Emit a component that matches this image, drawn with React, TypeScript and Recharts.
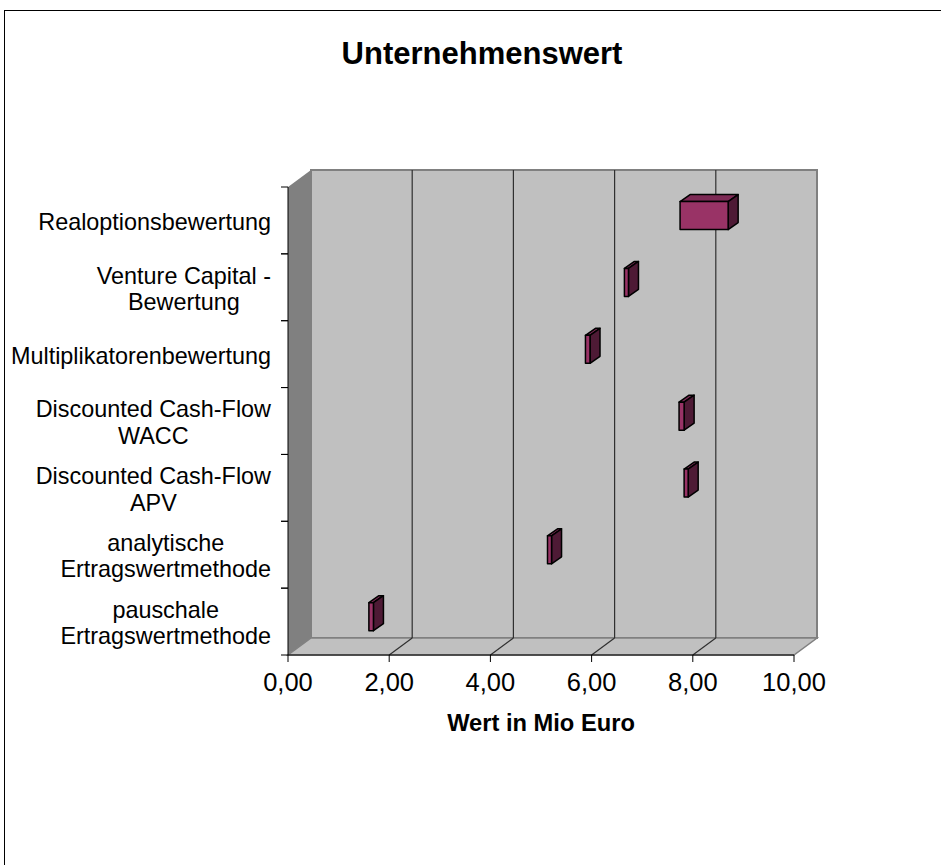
import { BarChart, Bar, XAxis, YAxis, ReferenceArea, ReferenceLine, Label } from 'recharts';

// valuation methods, top to bottom
const categories = [
  'Realoptionsbewertung',
  'Venture Capital -\nBewertung',
  'Multiplikatorenbewertung',
  'Discounted Cash-Flow\nWACC',
  'Discounted Cash-Flow\nAPV',
  'analytische\nErtragswertmethode',
  'pauschale\nErtragswertmethode',
];
// lower and upper end of each value range (Mio Euro)
const lowValues = [7.62, 6.52, 5.75, 7.6, 7.7, 5.0, 1.47];
const highValues = [8.57, 6.6, 5.84, 7.7, 7.78, 5.08, 1.56];
const xTicks = [0, 2, 4, 6, 8, 10];
const gridValues = [2, 4, 6, 8];

const data = categories.map((name, i) => ({ name, range: [lowValues[i], highValues[i]] }));

const FONT = '"Liberation Sans", Arial, Helvetica, sans-serif';
const LABEL_SIZE = 23.4;
const LINE_H = 26.5;
const TICK_SIZE = 7;
const TICK_MARGIN = 10;

// fake 3d: wall depth and bar placement inside it
const DX = 23;
const DY = -17;
const BAR_SHIFT_X = 6.5;
const BAR_SHIFT_Y = -4.8;
const BAR_DX = 10;
const BAR_DY = -7;

const measureCtx = typeof document !== 'undefined' ? document.createElement('canvas').getContext('2d') : null;
function textWidth(s: string) {
  if (!measureCtx) return s.length * LABEL_SIZE * 0.5;
  measureCtx.font = `${LABEL_SIZE}px ${FONT}`;
  return measureCtx.measureText(s).width;
}

const pts = (p: number[][]) => p.map(([a, b]) => `${a},${b}`).join(' ');

function Walls(props: any) {
  const { x, y, width: w, height: h } = props;
  return (
    <g>
      <rect x={x + DX} y={y + DY} width={w} height={h} fill="#C0C0C0" stroke="#808080" strokeWidth={2} />
      <polygon points={pts([[x, y], [x + DX, y + DY], [x + DX, y + h + DY], [x, y + h]])} fill="#808080" />
      <polygon
        points={pts([[x, y + h], [x + DX, y + h + DY], [x + w + DX, y + h + DY], [x + w, y + h]])}
        fill="#C0C0C0"
        stroke="#808080"
        strokeWidth={1.5}
      />
    </g>
  );
}

function WallGridLine(props: any) {
  const { x1, y1, y2 } = props;
  const top = Math.min(y1, y2);
  const bottom = Math.max(y1, y2);
  return (
    <g stroke="#303030" strokeWidth={1.2}>
      <line x1={x1 + DX} y1={top + DY} x2={x1 + DX} y2={bottom + DY} />
      <line x1={x1} y1={bottom} x2={x1 + DX} y2={bottom + DY} />
    </g>
  );
}

function Box3D(props: any) {
  const { x, y, width, height } = props;
  if (width == null || height == null) return null;
  const X = x + BAR_SHIFT_X;
  const Y = y + BAR_SHIFT_Y;
  const W = width;
  const H = height;
  return (
    <g stroke="#000" strokeWidth={1.5} strokeLinejoin="round">
      <polygon points={pts([[X, Y], [X + BAR_DX, Y + BAR_DY], [X + W + BAR_DX, Y + BAR_DY], [X + W, Y]])} fill="#7D2A55" />
      <polygon points={pts([[X + W, Y], [X + W + BAR_DX, Y + BAR_DY], [X + W + BAR_DX, Y + H + BAR_DY], [X + W, Y + H]])} fill="#4E1A35" />
      <rect x={X} y={Y} width={W} height={H} fill="#993366" />
    </g>
  );
}

function CategoryTick(props: any) {
  const { x, y, payload } = props;
  const half = payload?.offset ?? 33.4;
  const lines = String(payload.value).split('\n');
  const maxW = Math.max(...lines.map(textWidth));
  const cx = x - maxW / 2;
  const axisX = x + TICK_MARGIN + TICK_SIZE;
  return (
    <g>
      <line x1={axisX - TICK_SIZE} y1={y - half} x2={axisX} y2={y - half} stroke="#000" />
      <line x1={axisX - TICK_SIZE} y1={y + half} x2={axisX} y2={y + half} stroke="#000" />
      {lines.map((ln, i) => (
        <text
          key={i}
          x={cx}
          y={y + 1.5 + (i - (lines.length - 1) / 2) * LINE_H}
          textAnchor="middle"
          dominantBaseline="central"
          fontSize={LABEL_SIZE}
          fontFamily={FONT}
          fill="#000"
        >
          {ln}
        </text>
      ))}
    </g>
  );
}

export default function App() {
  return (
    <div style={{ position: 'absolute', left: 0, top: 0, width: 941, height: 865, overflow: 'hidden', background: '#fff', fontFamily: FONT }}>
      <div style={{ position: 'absolute', left: 4, top: 10, width: 1200, height: 1200, border: '1px solid #000' }} />
      <div style={{ position: 'absolute', left: 0, width: 964, top: 36, textAlign: 'center', fontSize: 31, fontWeight: 'bold', color: '#000' }}>
        Unternehmenswert
      </div>
      <div style={{ position: 'absolute', left: 0, top: 0 }}>
        <BarChart
          width={941}
          height={865}
          data={data}
          layout="vertical"
          margin={{ top: 187, right: 147, bottom: 130, left: 0 }}
          barCategoryGap="29%"
        >
          <XAxis
            type="number"
            domain={[0, 10]}
            ticks={xTicks}
            tickFormatter={(v: number) => v.toFixed(2).replace('.', ',')}
            tickSize={TICK_SIZE}
            tickMargin={11}
            axisLine={{ stroke: '#000' }}
            tickLine={{ stroke: '#000' }}
            tick={{ fill: '#000', fontSize: 25.5, fontFamily: FONT }}
            height={80}
          >
            <Label
              value="Wert in Mio Euro"
              position="insideBottom"
              offset={4}
              style={{ fill: '#000', fontSize: 23.7, fontWeight: 'bold', fontFamily: FONT }}
            />
          </XAxis>
          <YAxis
            type="category"
            dataKey="name"
            width={288}
            interval={0}
            tickSize={TICK_SIZE}
            tickMargin={TICK_MARGIN}
            tickLine={false}
            axisLine={{ stroke: '#000' }}
            tick={<CategoryTick />}
          />
          <ReferenceArea x1={0} x2={10} shape={<Walls />} zIndex={-60} />
          {gridValues.map((v) => (
            <ReferenceLine key={v} x={v} shape={<WallGridLine />} zIndex={-50} />
          ))}
          <Bar dataKey="range" shape={<Box3D />} isAnimationActive={false} />
        </BarChart>
      </div>
    </div>
  );
}
